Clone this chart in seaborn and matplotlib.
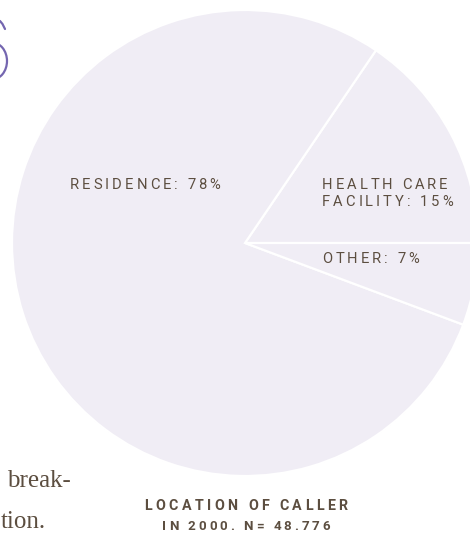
import matplotlib
matplotlib.use("Agg")
import matplotlib.pyplot as plt
import seaborn as sns
from matplotlib.font_manager import FontProperties
from matplotlib.patches import Arc
from matplotlib.lines import Line2D

# ---- data ----
categories = ["Health care facility", "Residence", "Other"]
shares = [15.5, 78.8, 5.7]          # wedge sizes as drawn (percent)
label_lines = [["HEALTH CARE", "FACILITY: 15%"], ["RESIDENCE: 78%"], ["OTHER: 7%"]]
caption_lines = ["LOCATION OF CALLER", "IN 2000. N= 48.776"]
side_text = ["break-", "tion."]

W, H = 470, 534
sns.set_theme(style="white")
plt.rcParams['font.family'] = ['Roboto', 'DejaVu Sans']

fig = plt.figure(figsize=(W / 100, H / 100), dpi=100)
fig.patch.set_facecolor("white")
ax = fig.add_axes([0, 0, 1, 1])

PIE = "#f0edf5"
TXT = "#5c4e40"
ax.pie(shares, colors=[PIE] * len(shares), startangle=0, counterclock=True,
       center=(245, H - 243), radius=233,
       wedgeprops=dict(edgecolor="white", linewidth=1.6))
ax.set_xlim(0, W)
ax.set_ylim(0, H)
ax.set_aspect("auto")
ax.axis("off")

renderer = fig.canvas.get_renderer()


def spaced(x, y_px, s, size, sp, ha="left", weight="normal", color=TXT):
    fp = FontProperties(family=['Roboto', 'DejaVu Sans'], size=size, weight=weight)

    def w(t):
        return renderer.get_text_width_height_descent(t, fp, ismath=False)[0]

    wI = w("I")
    pos = [0 if i == 0 else (w(s[:i] + "I") - wI) + i * sp for i in range(len(s))]
    total = w(s) + (len(s) - 1) * sp
    x0 = x - total / 2 if ha == "center" else x
    for ch, p in zip(s, pos):
        if ch != " ":
            ax.text(x0 + p, H - y_px, ch, fontproperties=fp, color=color,
                    ha="left", va="baseline")


LS = 10.6
SP = 3.0
# wedge labels
spaced(322, 189, label_lines[0][0], LS, SP)
spaced(322, 206, label_lines[0][1], LS, SP)
spaced(70, 189, label_lines[1][0], LS, SP)
spaced(322, 263, label_lines[2][0], LS, SP)

# caption
spaced(246, 510, caption_lines[0], 10.3, 3.4, ha="center", weight="bold")
spaced(246, 530, caption_lines[1], 9.6, 3.0, ha="center", weight="bold")

# side serif text
ax.text(7, H - 487, side_text[0], family="Liberation Serif", fontsize=18,
        color=TXT, ha="left", va="baseline")
ax.text(1, H - 528, side_text[1], family="Liberation Serif", fontsize=18,
        color=TXT, ha="left", va="baseline")

# purple decoration at top-left
PUR = "#7466b0"
ax.add_patch(Arc((-8, H - 61), 30, 37, theta1=-90, theta2=90,
                 color=PUR, linewidth=1.6, clip_on=False))
ax.add_line(Line2D([0, 2.5, 5], [H - 21, H - 24, H - 29], color=PUR, linewidth=1.6))

fig.savefig("out.png", dpi=100)
